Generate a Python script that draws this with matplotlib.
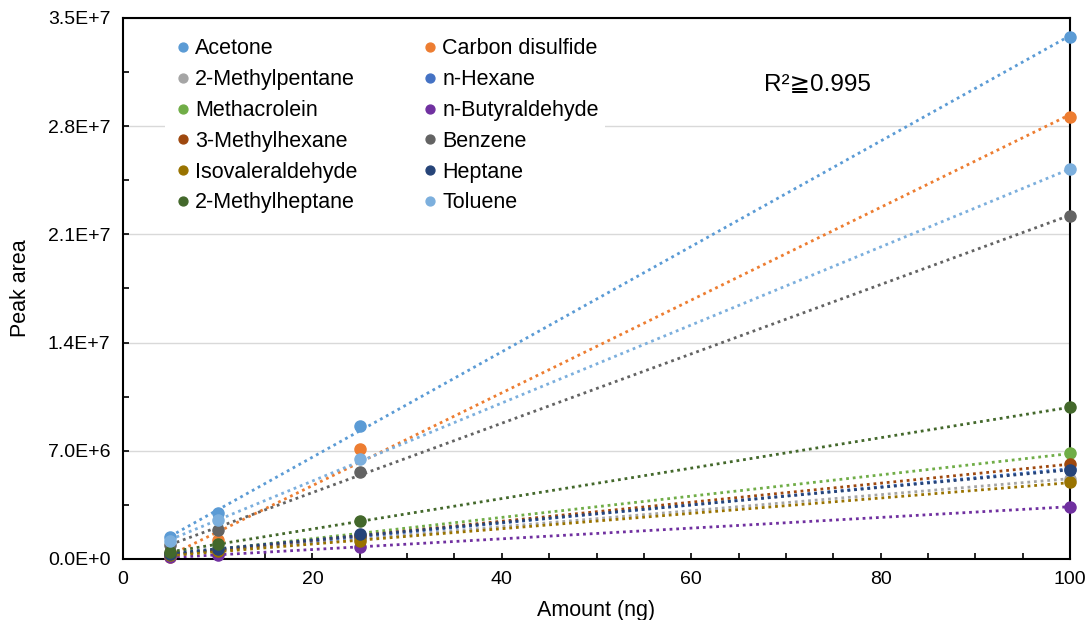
import numpy as np
import matplotlib
matplotlib.use("Agg")
import matplotlib.pyplot as plt
from matplotlib.ticker import MultipleLocator, FuncFormatter

plt.rcParams['font.family'] = ['Liberation Sans', 'DejaVu Sans']

amount = [5, 10, 25, 100]  # ng

names = ["Acetone", "Carbon disulfide", "2-Methylpentane", "n-Hexane",
         "Methacrolein", "n-Butyraldehyde", "3-Methylhexane", "Benzene",
         "Isovaleraldehyde", "Heptane", "2-Methylheptane", "Toluene"]
colours = ["#5B9BD5", "#ED7D31", "#A5A5A5", "#4472C4",
           "#70AD47", "#7030A0", "#9E480E", "#636363",
           "#997300", "#264478", "#43682B", "#7CAFDD"]

# peak areas at 5, 10, 25, 100 ng
acetone = [1.40e6, 3.00e6, 8.60e6, 33.8e6]
carbon_disulfide = [0.10e6, 1.20e6, 7.10e6, 28.6e6]
methylpentane_2 = [0.28e6, 0.55e6, 1.30e6, 5.20e6]
n_hexane = [0.30e6, 0.58e6, 1.40e6, 5.85e6]
methacrolein = [0.35e6, 0.65e6, 1.55e6, 6.84e6]
n_butyraldehyde = [0.10e6, 0.25e6, 0.80e6, 3.38e6]
methylhexane_3 = [0.30e6, 0.60e6, 1.50e6, 6.14e6]
benzene = [0.90e6, 1.90e6, 5.65e6, 22.2e6]
isovaleraldehyde = [0.25e6, 0.50e6, 1.15e6, 4.95e6]
heptane = [0.35e6, 0.62e6, 1.60e6, 5.75e6]
methylheptane_2 = [0.45e6, 0.95e6, 2.46e6, 9.81e6]
toluene = [1.15e6, 2.50e6, 6.47e6, 25.2e6]

series = [acetone, carbon_disulfide, methylpentane_2, n_hexane,
          methacrolein, n_butyraldehyde, methylhexane_3, benzene,
          isovaleraldehyde, heptane, methylheptane_2, toluene]

fig = plt.figure(figsize=(10.87, 6.2), dpi=100)
ax = fig.add_axes([0.1132, 0.0984, 0.8712, 0.8726])

x = np.array(amount, dtype=float)
handles = []
for name, col, y in zip(names, colours, series):
    y = np.array(y)
    # linear trendline over the measured range
    k, b = np.polyfit(x, y, 1)
    xs = np.array([x.min(), x.max()])
    ax.plot(xs, k * xs + b, color=col, lw=2, linestyle=(0, (1, 1.4)), zorder=2)
    h, = ax.plot(x, y, 'o', color=col, ms=8, label=name, zorder=3, clip_on=False)
    handles.append(h)

ax.set_xlim(0, 100)
ax.set_ylim(0, 3.5e7)
ax.xaxis.set_major_locator(MultipleLocator(20))
ax.xaxis.set_minor_locator(MultipleLocator(5))
ax.yaxis.set_major_locator(MultipleLocator(7e6))
ax.yaxis.set_minor_locator(MultipleLocator(3.5e6))


def sci(v, pos):
    if v == 0:
        return "0.0E+0"
    e = int(np.floor(np.log10(abs(v))))
    return f"{v / 10**e:.1f}E+{e}"


ax.yaxis.set_major_formatter(FuncFormatter(sci))
ax.tick_params(which='both', direction='in', length=4.5, width=1.2, labelsize=14,
               colors='black')
ax.tick_params(axis='x', pad=9)
ax.tick_params(axis='y', pad=9)
ax.grid(axis='y', which='major', color='#D9D9D9', lw=1)
ax.set_axisbelow(True)
for s in ax.spines.values():
    s.set_linewidth(1.5)
    s.set_color('black')

ax.set_xlabel("Amount (ng)", fontsize=15.5, labelpad=8)
ax.set_ylabel("Peak area", fontsize=15.5, labelpad=12)

order = list(range(0, 12, 2)) + list(range(1, 12, 2))
leg = ax.legend([handles[i] for i in order], [names[i] for i in order], ncol=2,
                loc='upper left', bbox_to_anchor=(0.033, 0.994), fontsize=15.5,
                frameon=True, framealpha=1, facecolor='white', edgecolor='none',
                handletextpad=0.0, handlelength=1.1, columnspacing=2.83,
                labelspacing=0.455, markerscale=0.8, borderpad=0.3)
leg.get_frame().set_linewidth(0)

ax.text(0.677, 0.877, "R²≧0.995", transform=ax.transAxes, fontsize=17.5,
        ha='left', va='center')

fig.savefig("out.png", dpi=100)
